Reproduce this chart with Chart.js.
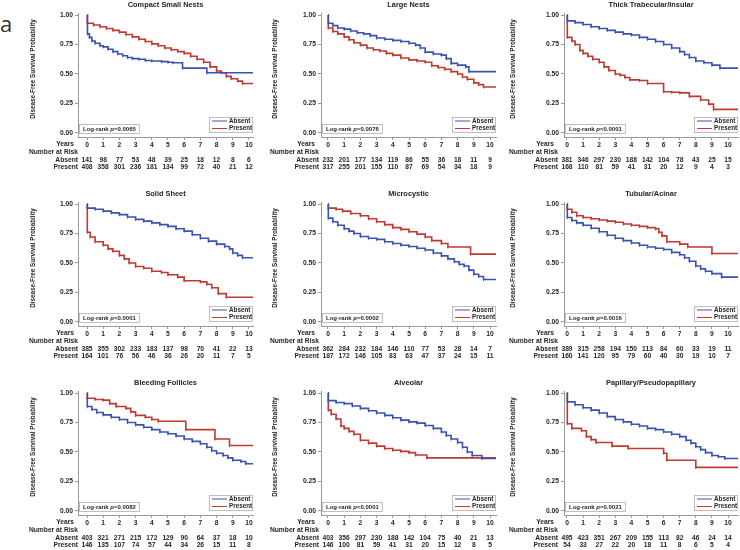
<!DOCTYPE html>
<html>
<head>
<meta charset="utf-8">
<script src="https://cdn.jsdelivr.net/npm/chart.js@4.4.0/dist/chart.umd.min.js"></script>
<style>
  body { margin: 0; background: #fff; }
  #fig { position: relative; width: 740px; height: 550px; overflow: hidden; }
  #fig canvas { position: absolute; }
  #tag { position: absolute; left: 0px; top: 12px; font: 22px "Open Sans", sans-serif; color: #333; line-height: 22px; }
</style>
</head>
<body>
<div id="fig"><div id="tag">a</div></div>
<script>
// x axis ticks (years) and y axis ticks
const years = [0, 1, 2, 3, 4, 5, 6, 7, 8, 9, 10];
const yTicks = [0, 0.25, 0.5, 0.75, 1];

const titles = ["Compact Small Nests", "Large Nests", "Thick Trabecular/Insular",
  "Solid Sheet", "Microcystic", "Tubular/Acinar",
  "Bleeding Follicles", "Alveolar", "Papillary/Pseudopapillary"];
const pValues = ["=0.0065", "=0.0076", "<0.0001", "<0.0001", "=0.0002", "=0.0016", "=0.0082", "<0.0001", "=0.0021"];

// survival curves, [years, probability] at each step
const compactAbsent = [[0,1],[0.03,0.84],[0.15,0.81],[0.3,0.78],[0.5,0.76],[0.8,0.74],[1,0.73],[1.3,0.71],[1.6,0.69],[1.9,0.67],[2.2,0.655],[2.5,0.64],[2.8,0.63],[3.2,0.625],[3.6,0.615],[4,0.61],[4.6,0.605],[5,0.6],[5.3,0.595],[5.9,0.55],[7.4,0.51],[10.25,0.51]];
const compactPresent = [[0,1],[0.02,0.93],[0.4,0.915],[0.8,0.9],[1.2,0.885],[1.6,0.87],[2,0.855],[2.4,0.835],[2.8,0.815],[3.2,0.795],[3.6,0.775],[4,0.755],[4.4,0.74],[4.8,0.72],[5.2,0.705],[5.6,0.69],[6,0.675],[6.4,0.65],[6.8,0.625],[7.2,0.6],[7.6,0.56],[8,0.525],[8.3,0.51],[8.6,0.48],[8.9,0.46],[9.3,0.44],[9.6,0.42],[10.25,0.42]];
const largeAbsent = [[0,1],[0.02,0.93],[0.3,0.91],[0.6,0.89],[1,0.88],[1.4,0.865],[1.8,0.85],[2.2,0.84],[2.6,0.825],[3,0.805],[3.5,0.795],[4,0.785],[4.5,0.775],[5,0.76],[5.4,0.745],[5.7,0.72],[6,0.685],[6.5,0.67],[7,0.66],[7.3,0.63],[7.6,0.59],[8,0.575],[8.5,0.56],[8.7,0.52],[10.37,0.52]];
const largePresent = [[0,1],[0.02,0.89],[0.3,0.86],[0.6,0.84],[1,0.815],[1.3,0.79],[1.6,0.765],[2,0.745],[2.4,0.72],[2.8,0.705],[3.2,0.695],[3.6,0.675],[4,0.66],[4.5,0.635],[5,0.62],[5.5,0.61],[6,0.6],[6.4,0.57],[6.8,0.555],[7.2,0.54],[7.6,0.52],[8,0.5],[8.3,0.475],[8.6,0.455],[9,0.425],[9.3,0.41],[9.6,0.39],[10.37,0.39]];
const thickAbsent = [[0,1],[0.02,0.95],[0.5,0.935],[1,0.92],[1.5,0.9],[2,0.885],[2.5,0.87],[3,0.855],[3.5,0.84],[4,0.83],[4.5,0.81],[5,0.795],[5.5,0.775],[6,0.75],[6.5,0.72],[7,0.69],[7.3,0.665],[7.6,0.64],[8,0.61],[8.5,0.595],[9,0.575],[9.5,0.55],[10.62,0.55]];
const thickPresent = [[0,1],[0.02,0.81],[0.3,0.78],[0.5,0.75],[0.8,0.7],[1,0.675],[1.3,0.65],[1.6,0.625],[2,0.6],[2.3,0.56],[2.6,0.53],[3,0.5],[3.3,0.49],[3.6,0.47],[3.9,0.45],[4.5,0.445],[5,0.42],[6,0.35],[6.5,0.345],[7,0.34],[7.6,0.31],[8.3,0.28],[8.8,0.245],[9.1,0.2],[10.62,0.2]];
const solidAbsent = [[0,1],[0.02,0.965],[0.5,0.955],[1,0.94],[1.5,0.925],[2,0.91],[2.5,0.89],[3,0.87],[3.5,0.855],[4,0.84],[4.5,0.825],[5,0.81],[5.5,0.79],[6,0.77],[6.5,0.74],[7,0.71],[7.5,0.685],[8,0.66],[8.5,0.64],[8.8,0.62],[9,0.585],[9.3,0.565],[9.6,0.545],[10.25,0.545]];
const solidPresent = [[0,1],[0.02,0.76],[0.2,0.72],[0.5,0.68],[1,0.65],[1.3,0.62],[1.6,0.6],[2,0.565],[2.3,0.535],[2.6,0.5],[3,0.47],[3.5,0.455],[4,0.43],[4.6,0.42],[5,0.4],[5.6,0.38],[6,0.35],[7,0.34],[7.4,0.32],[7.7,0.29],[8.1,0.24],[8.6,0.21],[10.25,0.21]];
const microAbsent = [[0,1],[0.02,0.88],[0.3,0.85],[0.6,0.82],[1,0.79],[1.3,0.77],[1.6,0.75],[2,0.725],[2.5,0.71],[3,0.7],[3.5,0.68],[4,0.665],[4.5,0.65],[5,0.64],[5.5,0.625],[6,0.61],[6.5,0.585],[7,0.56],[7.4,0.535],[7.8,0.51],[8.1,0.49],[8.4,0.475],[8.7,0.44],[9,0.405],[9.3,0.385],[9.6,0.36],[10.37,0.36]];
const microPresent = [[0,1],[0.02,0.965],[0.5,0.955],[0.9,0.94],[1.4,0.92],[2,0.9],[2.5,0.875],[3,0.85],[3.5,0.825],[4,0.8],[4.5,0.785],[5,0.765],[5.5,0.745],[6,0.72],[6.4,0.69],[7,0.665],[7.4,0.635],[8.8,0.575],[10.37,0.575]];
const tubularAbsent = [[0,1],[0.02,0.885],[0.3,0.86],[0.6,0.84],[1,0.82],[1.5,0.795],[2,0.765],[2.5,0.735],[3,0.71],[3.5,0.69],[4,0.67],[4.5,0.65],[5,0.635],[5.5,0.625],[6,0.615],[6.5,0.59],[7,0.57],[7.3,0.545],[7.6,0.515],[8,0.475],[8.3,0.45],[8.6,0.43],[9,0.41],[9.6,0.38],[10.62,0.38]];
const tubularPresent = [[0,1],[0.02,0.955],[0.3,0.93],[0.6,0.9],[1,0.885],[1.5,0.875],[2,0.865],[2.5,0.855],[3,0.845],[3.5,0.83],[4,0.82],[4.5,0.81],[5,0.8],[5.5,0.79],[5.7,0.76],[5.9,0.73],[6.2,0.68],[7,0.66],[7.5,0.635],[9,0.58],[10.62,0.58]];
const bleedAbsent = [[0,1],[0.02,0.885],[0.3,0.86],[0.6,0.835],[1,0.815],[1.5,0.795],[2,0.775],[2.5,0.75],[3,0.73],[3.5,0.71],[4,0.69],[4.5,0.67],[5,0.655],[5.5,0.635],[6,0.61],[6.5,0.59],[7,0.57],[7.4,0.54],[7.7,0.51],[8,0.49],[8.4,0.47],[8.7,0.45],[9,0.43],[9.5,0.42],[9.8,0.4],[10.25,0.395]];
const bleedPresent = [[0,1],[0.02,0.955],[0.5,0.945],[1,0.94],[1.4,0.91],[1.8,0.885],[2.4,0.87],[2.7,0.84],[3,0.81],[3.6,0.795],[4,0.775],[4.4,0.76],[6.1,0.69],[7.9,0.61],[8.8,0.555],[10.25,0.555]];
const alveolarAbsent = [[0,1],[0.02,0.935],[0.5,0.92],[1,0.91],[1.5,0.89],[2,0.87],[2.5,0.85],[3,0.83],[3.5,0.81],[4,0.79],[4.5,0.77],[5,0.755],[5.5,0.745],[6,0.725],[6.5,0.7],[7,0.67],[7.3,0.64],[7.6,0.61],[8,0.58],[8.3,0.54],[8.6,0.5],[8.9,0.47],[9.5,0.445],[10.37,0.44]];
const alveolarPresent = [[0,1],[0.02,0.855],[0.2,0.82],[0.5,0.78],[0.8,0.72],[1,0.7],[1.3,0.675],[1.6,0.65],[2,0.6],[2.5,0.575],[3,0.55],[3.5,0.53],[4,0.515],[4.5,0.505],[5,0.495],[5.4,0.475],[6.1,0.45],[10.37,0.45]];
const papillaryAbsent = [[0,1],[0.02,0.925],[0.5,0.9],[1,0.875],[1.5,0.855],[2,0.83],[2.5,0.8],[3,0.775],[3.5,0.755],[4,0.735],[4.5,0.72],[5,0.7],[5.5,0.69],[6,0.67],[6.5,0.65],[7,0.63],[7.4,0.6],[7.7,0.575],[8,0.545],[8.3,0.52],[8.6,0.495],[9,0.47],[9.4,0.46],[9.8,0.445],[10.62,0.445]];
const papillaryPresent = [[0,1],[0.02,0.74],[0.3,0.7],[0.9,0.68],[1.2,0.63],[1.5,0.605],[1.8,0.58],[2.8,0.55],[3.8,0.53],[6,0.49],[6.2,0.43],[8,0.37],[10.62,0.37]];

// number at risk, years 0..10
const compactRiskAbsent = [141, 98, 77, 53, 48, 39, 25, 18, 12, 8, 6];
const compactRiskPresent = [408, 358, 301, 236, 181, 134, 99, 72, 40, 21, 12];
const largeRiskAbsent = [232, 201, 177, 134, 119, 86, 55, 36, 18, 11, 9];
const largeRiskPresent = [317, 255, 201, 155, 110, 87, 69, 54, 34, 18, 9];
const thickRiskAbsent = [381, 346, 297, 230, 188, 142, 104, 78, 43, 25, 15];
const thickRiskPresent = [168, 110, 81, 59, 41, 31, 20, 12, 9, 4, 3];
const solidRiskAbsent = [385, 355, 302, 233, 183, 137, 98, 70, 41, 22, 13];
const solidRiskPresent = [164, 101, 76, 56, 46, 36, 26, 20, 11, 7, 5];
const microRiskAbsent = [362, 284, 232, 184, 146, 110, 77, 53, 28, 14, 7];
const microRiskPresent = [187, 172, 146, 105, 83, 63, 47, 37, 24, 15, 11];
const tubularRiskAbsent = [389, 315, 258, 194, 150, 113, 84, 60, 33, 19, 11];
const tubularRiskPresent = [160, 141, 120, 95, 79, 60, 40, 30, 19, 10, 7];
const bleedRiskAbsent = [403, 321, 271, 215, 172, 129, 90, 64, 37, 18, 10];
const bleedRiskPresent = [146, 135, 107, 74, 57, 44, 34, 26, 15, 11, 8];
const alveolarRiskAbsent = [403, 356, 297, 230, 188, 142, 104, 75, 40, 21, 13];
const alveolarRiskPresent = [146, 100, 81, 59, 41, 31, 20, 15, 12, 8, 5];
const papillaryRiskAbsent = [495, 423, 351, 267, 209, 155, 113, 82, 46, 24, 14];
const papillaryRiskPresent = [54, 33, 27, 22, 20, 18, 11, 8, 6, 5, 4];

const curves = [
  [compactAbsent, compactPresent], [largeAbsent, largePresent], [thickAbsent, thickPresent],
  [solidAbsent, solidPresent], [microAbsent, microPresent], [tubularAbsent, tubularPresent],
  [bleedAbsent, bleedPresent], [alveolarAbsent, alveolarPresent], [papillaryAbsent, papillaryPresent]
];
const risks = [
  [compactRiskAbsent, compactRiskPresent], [largeRiskAbsent, largeRiskPresent], [thickRiskAbsent, thickRiskPresent],
  [solidRiskAbsent, solidRiskPresent], [microRiskAbsent, microRiskPresent], [tubularRiskAbsent, tubularRiskPresent],
  [bleedRiskAbsent, bleedRiskPresent], [alveolarRiskAbsent, alveolarRiskPresent], [papillaryRiskAbsent, papillaryRiskPresent]
];

const FONT = '"Liberation Sans", Arial, sans-serif';
const TXT = '#262626';
const AXIS = '#9a9a9a';
const BLUE = '#3a52b0';
const RED = '#bf3a30';

// layout of the three columns
const colLeft = [0, 245, 490];
const colWidth = [258, 258, 250];
const axisX = [78, 76, 74];
const padRight = [5, 7, 2];
const xMin = [-0.556, -0.432, -0.186];
const xMax = [10.25, 10.37, 10.62];
const yTitleOff = [45, 46, 51];
const rowTop = [0, 189, 378];

const kmPlugin = {
  id: 'km',
  afterDraw(chart) {
    const p = chart.options.plugins.km;
    const ctx = chart.ctx;
    const a = chart.chartArea;
    const xs = chart.scales.x;
    ctx.save();
    ctx.fillStyle = TXT;
    ctx.textBaseline = 'middle';

    // panel title
    ctx.font = 'bold 7.4px ' + FONT;
    ctx.textAlign = 'center';
    ctx.fillText(p.title, (a.left + a.right) / 2, 5);

    // y axis title
    ctx.save();
    ctx.translate(a.left - p.yTitleOff, a.top + 56);
    ctx.rotate(-Math.PI / 2);
    ctx.font = 'bold 6.3px ' + FONT;
    ctx.fillText('Disease-Free Survival Probability', 0, 0);
    ctx.restore();

    // number at risk table
    const x0 = xs.getPixelForValue(0);
    ctx.font = 'bold 6.7px ' + FONT;
    ctx.textAlign = 'right';
    ctx.fillText('Years', x0 - 13, a.bottom + 7.5);
    ctx.fillText('Number at Risk', x0 - 9, a.bottom + 15);
    ctx.fillText('Absent', x0 - 9, a.bottom + 23);
    ctx.fillText('Present', x0 - 9, a.bottom + 30);
    ctx.textAlign = 'center';
    p.riskAbsent.forEach((n, i) => ctx.fillText(String(n), xs.getPixelForValue(years[i]), a.bottom + 23));
    p.riskPresent.forEach((n, i) => ctx.fillText(String(n), xs.getPixelForValue(years[i]), a.bottom + 30));

    // log-rank box
    ctx.font = 'bold 6px ' + FONT;
    const s1 = 'Log-rank ';
    const s3 = p.pval;
    const w1 = ctx.measureText(s1).width;
    const w3 = ctx.measureText(s3).width;
    ctx.font = 'italic bold 6px ' + FONT;
    const w2 = ctx.measureText('p').width;
    const bx = a.left + 1, by = a.bottom - 13;
    const bw = w1 + w2 + w3 + 7;
    ctx.fillStyle = '#fff';
    ctx.fillRect(bx, by, bw, 9);
    ctx.strokeStyle = '#b0b0b0';
    ctx.lineWidth = 0.8;
    ctx.strokeRect(bx + 0.5, by + 0.5, bw, 9);
    ctx.fillStyle = TXT;
    ctx.textAlign = 'left';
    ctx.font = 'bold 6px ' + FONT;
    ctx.fillText(s1, bx + 4, by + 5);
    ctx.font = 'italic bold 6px ' + FONT;
    ctx.fillText('p', bx + 4 + w1, by + 5);
    ctx.font = 'bold 6px ' + FONT;
    ctx.fillText(s3, bx + 4 + w1 + w2, by + 5);

    // legend box
    const lw = 44, lx = a.right - lw, ly = a.bottom - 20;
    ctx.fillStyle = '#fff';
    ctx.fillRect(lx, ly, lw, 15);
    ctx.strokeRect(lx + 0.5, ly + 0.5, lw - 1, 15);
    const items = [['Absent', BLUE], ['Present', RED]];
    items.forEach((it, k) => {
      const yy = ly + 4 + k * 7.5;
      ctx.strokeStyle = it[1];
      ctx.lineWidth = 1;
      ctx.beginPath();
      ctx.moveTo(lx + 3, yy);
      ctx.lineTo(lx + 18, yy);
      ctx.stroke();
      ctx.fillStyle = TXT;
      ctx.font = 'bold 6.3px ' + FONT;
      ctx.fillText(it[0], lx + 20, yy);
    });
    ctx.restore();
  }
};

const fig = document.getElementById('fig');

titles.forEach((title, i) => {
  const col = i % 3, row = Math.floor(i / 3);
  const canvas = document.createElement('canvas');
  canvas.width = colWidth[col];
  canvas.height = 172;
  canvas.style.left = colLeft[col] + 'px';
  canvas.style.top = rowTop[row] + 'px';
  fig.appendChild(canvas);

  const mk = (pts, color) => ({
    data: pts.map(p => ({ x: p[0], y: p[1] })),
    stepped: true,
    borderColor: color,
    borderWidth: 1.6,
    pointStyle: 'line',
    rotation: 90,
    pointBorderColor: color,
    pointBorderWidth: 0.9,
    pointRadius: ctx => (ctx.dataIndex === 0 || ctx.dataIndex === pts.length - 1) ? 0 : 1.6,
    fill: false
  });

  new Chart(canvas, {
    type: 'line',
    data: {
      datasets: [mk(curves[i][0], BLUE), mk(curves[i][1], RED)]
    },
    options: {
      responsive: false,
      animation: false,
      events: [],
      layout: { padding: { top: 13, bottom: 25, left: 0, right: padRight[col] } },
      scales: {
        x: {
          type: 'linear',
          min: xMin[col],
          max: xMax[col],
          afterBuildTicks: s => { s.ticks = years.map(v => ({ value: v })); },
          afterFit: s => { s.height = 10; },
          grid: { display: true, drawOnChartArea: false, tickLength: 3, color: AXIS },
          border: { display: true, color: AXIS, width: 1 },
          ticks: { color: TXT, padding: 1, maxRotation: 0, autoSkip: false, font: { family: FONT, size: 6.7, weight: 'bold' } }
        },
        y: {
          min: -0.034,
          max: 1.017,
          afterBuildTicks: s => { s.ticks = yTicks.map(v => ({ value: v })); },
          afterFit: s => { s.width = axisX[col]; },
          grid: { display: true, drawOnChartArea: false, tickLength: 3, color: AXIS },
          border: { display: true, color: AXIS, width: 1 },
          ticks: { color: TXT, padding: 2, font: { family: FONT, size: 6.7, weight: 'bold' }, callback: v => Number(v).toFixed(2) }
        }
      },
      plugins: {
        legend: { display: false },
        tooltip: { enabled: false },
        km: {
          title: title,
          pval: pValues[i],
          riskAbsent: risks[i][0],
          riskPresent: risks[i][1],
          yTitleOff: yTitleOff[col]
        }
      }
    },
    plugins: [kmPlugin]
  });
});
</script>
</body>
</html>
